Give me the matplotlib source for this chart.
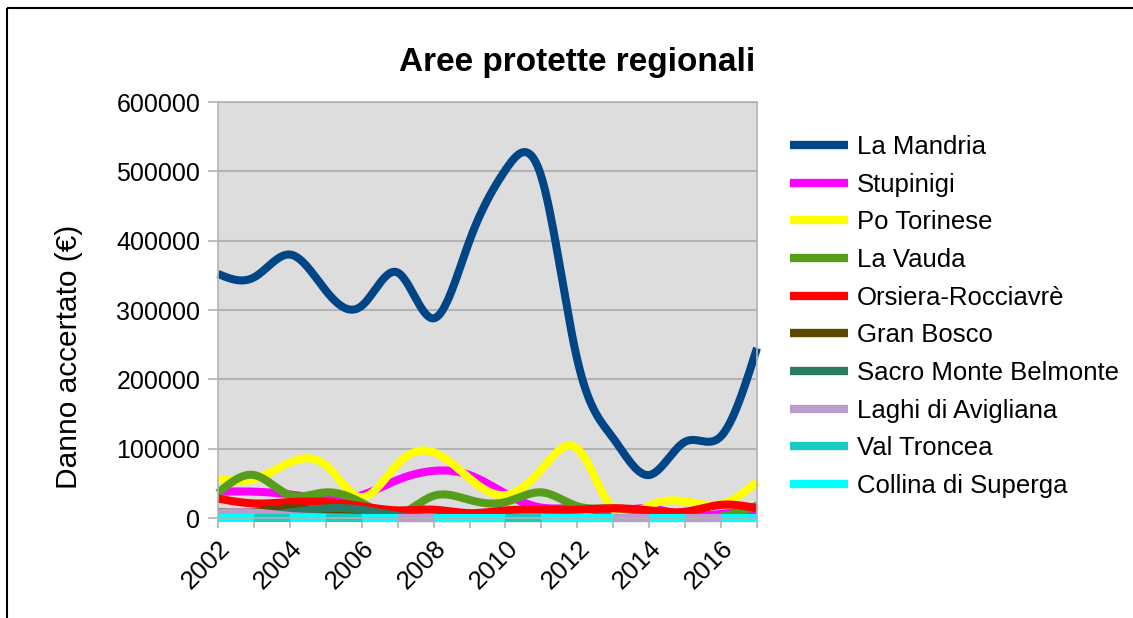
import numpy as np
import matplotlib
matplotlib.use('Agg')
import matplotlib.pyplot as plt
from matplotlib.lines import Line2D

plt.rcParams['font.family'] = ['Liberation Sans', 'DejaVu Sans']

years = list(range(2002, 2018))

names = ['La Mandria', 'Stupinigi', 'Po Torinese', 'La Vauda', 'Orsiera-Rocciavrè',
         'Gran Bosco', 'Sacro Monte Belmonte', 'Laghi di Avigliana', 'Val Troncea',
         'Collina di Superga']

la_mandria = [352000, 347000, 380000, 328000, 306000, 354000, 288000, 400000,
              502000, 492000, 228000, 115000, 62000, 110000, 118000, 245000]
stupinigi = [38000, 38000, 34000, 28000, 33000, 55000, 68000, 62000,
             35000, 15000, 14000, 10000, 14000, 4000, 6000, 10000]
po_torinese = [57000, 56000, 80000, 76000, 30000, 78000, 95000, 57000,
               33000, 70000, 100000, 12000, 18000, 24000, 20000, 52000]
la_vauda = [36000, 62000, 33000, 37000, 22000, 5000, 32000, 26000,
            23000, 37000, 17000, 14000, 8000, 2000, 2000, 18000]
orsiera = [28000, 21000, 23000, 23000, 17000, 11000, 12000, 7000,
           11000, 12000, 12000, 14000, 11000, 9000, 19000, 14000]
gran_bosco = [8000, 9000, 14000, 9000, 2000, 0, 0, 0, 0, 0, 0, 0, 0, 0, 0, 0]
sacro_monte = [0, 2000, 8000, 14000, 12000, 3000, 0, 0, 0, 0, 0, 0, 0, 0, 0, 0]
laghi = [7000, 8000, 3000, 1000, 0, 0, 0, 0, 0, 0, 0, 0, 0, 0, 0, 0]
val_troncea = [0] * 16
collina = [0] * 16

# which series shows on top of the zero line, per year interval
baseline_top = ['Collina di Superga', 'Val Troncea', 'Collina di Superga', 'Val Troncea',
                'Collina di Superga', 'Laghi di Avigliana', 'Collina di Superga',
                'Collina di Superga', 'Val Troncea', 'Collina di Superga',
                'Collina di Superga', 'Laghi di Avigliana', 'Collina di Superga',
                'Laghi di Avigliana', 'Collina di Superga']

colors = ['#004586', '#ff00ff', '#ffff00', '#579d1c', '#ff0000',
          '#5e4800', '#2b7a62', '#bb9ccc', '#18cbc0', '#00ffff']

series = [la_mandria, stupinigi, po_torinese, la_vauda, orsiera,
          gran_bosco, sacro_monte, laghi, val_troncea, collina]


def natural_spline(x, y, steps=30):
    x = np.asarray(x, float)
    y = np.asarray(y, float)
    n = len(x)
    h = np.diff(x)
    A = np.zeros((n, n))
    r = np.zeros(n)
    A[0, 0] = A[-1, -1] = 1
    for i in range(1, n - 1):
        A[i, i - 1] = h[i - 1]
        A[i, i] = 2 * (h[i - 1] + h[i])
        A[i, i + 1] = h[i]
        r[i] = 6 * ((y[i + 1] - y[i]) / h[i] - (y[i] - y[i - 1]) / h[i - 1])
    M = np.linalg.solve(A, r)
    xs, ys = [], []
    for i in range(n - 1):
        t = np.linspace(x[i], x[i + 1], steps, endpoint=(i == n - 2))
        a = x[i + 1] - t
        b = t - x[i]
        s = (M[i] * a ** 3 + M[i + 1] * b ** 3) / (6 * h[i]) \
            + (y[i] / h[i] - M[i] * h[i] / 6) * a \
            + (y[i + 1] / h[i] - M[i + 1] * h[i] / 6) * b
        xs.append(t)
        ys.append(s)
    return np.concatenate(xs), np.concatenate(ys)


fig = plt.figure(figsize=(11.33, 6.18), dpi=100)
ax = fig.add_axes([218 / 1133, 1 - 518 / 618, 539 / 1133, 416 / 618])
ax.set_facecolor('#dddddd')

lw = 5.8
handles = []
for name, vals, c in zip(names, series, colors):
    sx, sy = natural_spline(years, vals)
    ax.plot(sx, sy, color=c, lw=lw, solid_capstyle='butt', clip_on=False)
    handles.append(Line2D([], [], color=c, lw=6, solid_capstyle='butt', label=name))

for i, name in enumerate(baseline_top):
    if name != 'Collina di Superga':
        c = colors[names.index(name)]
        ax.plot(years[i:i + 2], [0, 0], color=c, lw=lw, solid_capstyle='butt', clip_on=False)

ax.set_xlim(2002, 2017)
ax.set_ylim(0, 600000)
ax.set_yticks(range(0, 600001, 100000))
ax.set_xticks(years)
ax.set_xticklabels([str(y) if y % 2 == 0 else '' for y in years],
                   rotation=45, ha='right', va='top', rotation_mode='anchor')
ax.grid(axis='y', color='#b3b3b3', lw=1.5)
ax.set_axisbelow(True)
for sp in ax.spines.values():
    sp.set_color('#b3b3b3')
    sp.set_linewidth(1.2)
ax.tick_params(axis='both', color='#b3b3b3', width=1.2, length=7.2, labelsize=18)
ax.tick_params(axis='y', pad=5.5)
ax.tick_params(axis='x', labelsize=18.5, pad=6)

fig.text(577 / 1133, 1 - 62 / 618, 'Aree protette regionali', fontsize=24,
         fontweight='bold', ha='center', va='center')
fig.text(69 / 1133, 1 - 357 / 618, 'Danno accertato (€)', fontsize=21.5,
         rotation=90, ha='center', va='center')

ax.legend(handles=handles, loc='center left', bbox_to_anchor=(790 / 1133, 1 - 316.5 / 618),
          bbox_transform=fig.transFigure, frameon=False, fontsize=18.5,
          handlelength=2.25, handletextpad=0.35, labelspacing=0.53,
          borderpad=0, borderaxespad=0)

# outer frame lines (top and left)
fig.add_artist(Line2D([7 / 1133, 1], [1 - 8 / 618, 1 - 8 / 618], color='black', lw=1.5,
                      solid_capstyle='butt', transform=fig.transFigure))
fig.add_artist(Line2D([7 / 1133, 7 / 1133], [0, 1 - 8 / 618], color='black', lw=1.5,
                      solid_capstyle='butt', transform=fig.transFigure))

fig.savefig('out.png', dpi=100)
